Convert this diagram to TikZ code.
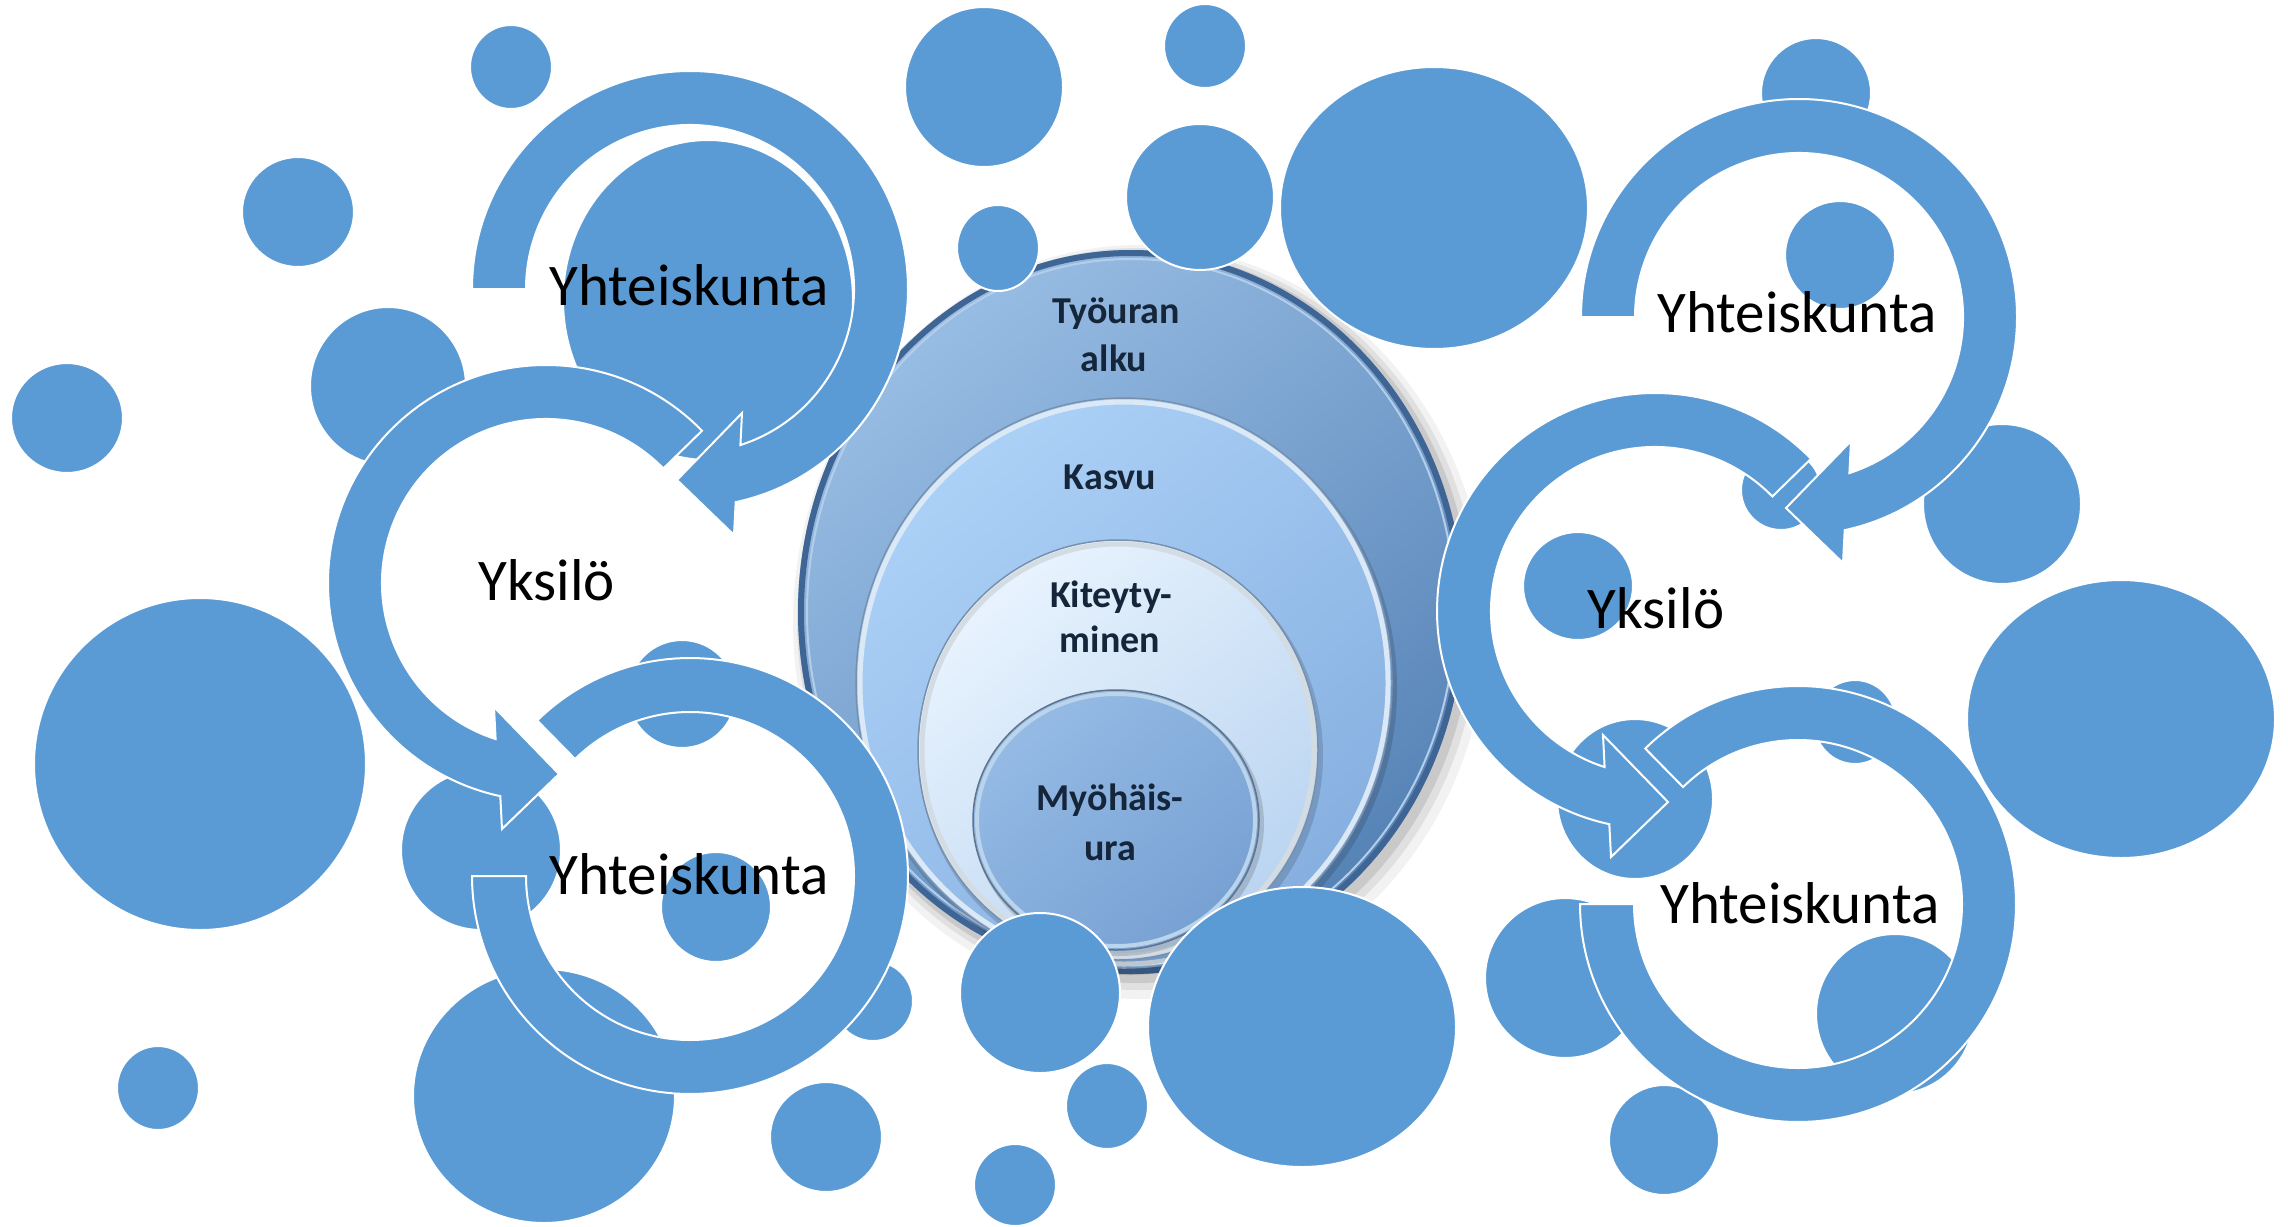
\documentclass[tikz,border=0pt]{standalone}
\usepackage{fontspec}
\setmainfont{Carlito}
\usetikzlibrary{calc}
\definecolor{bub}{HTML}{5B9BD5}
\definecolor{outerA}{HTML}{98BDE4}
\definecolor{outerB}{HTML}{5683B6}
\definecolor{rimdark}{HTML}{3F6594}
\definecolor{rimlight}{HTML}{B4CDE9}
\definecolor{ctwoA}{HTML}{ACD1F7}
\definecolor{ctwoB}{HTML}{86AFE0}
\definecolor{cthreeA}{HTML}{E8F3FE}
\definecolor{cthreeB}{HTML}{BAD4F0}
\definecolor{cfourA}{HTML}{95BBE5}
\definecolor{cfourB}{HTML}{78A1D3}
\definecolor{silver}{HTML}{E3ECF5}
\definecolor{edgegray}{HTML}{7890AC}
\definecolor{ctxt}{HTML}{15253A}
\newcommand{\ringA}[1]{%
  \path[ringst] ($(#1)+(180:218)$) arc[start angle=180, end angle=437.9, radius=218]
    -- ($(#1)+(44,246)$) -- ($(#1)+(-13,191)$) -- ($(#1)+(52,124)$)
    -- ($(#1)+(72.1:164)$) arc[start angle=432.1, end angle=180, radius=164] -- cycle;}
\newcommand{\ringB}[1]{%
  \path[ringst] ($(#1)+(315.7:218)$) arc[start angle=315.7, end angle=102.1, radius=218]
    -- ($(#1)+(-44,246)$) -- ($(#1)+(13,191)$) -- ($(#1)+(-52,124)$)
    -- ($(#1)+(107.9:164)$) arc[start angle=107.9, end angle=315.7, radius=164] -- cycle;}
\newcommand{\ringC}[1]{%
  \path[ringst] ($(#1)+(225.5:218)$) arc[start angle=225.5, end angle=540, radius=218]
    -- ($(#1)+(540:164)$) arc[start angle=540, end angle=225.5, radius=164] -- cycle;}
\begin{document}
\begin{tikzpicture}[x=1pt,y=-1pt,
  bubble/.style={fill=bub,draw=white,line width=2pt},
  ringst/.style={fill=bub,draw=white,line width=2pt,line join=miter,miter limit=10},
  rtext/.style={font=\fontsize{59}{70}\selectfont,text=black,inner sep=0pt,anchor=base},
  ctext/.style={font=\fontsize{38}{46}\selectfont\bfseries,text=ctxt,inner sep=0pt,anchor=base}]
\useasboundingbox (0,0) rectangle (2288,1226);
\fill[white] (0,0) rectangle (2288,1226);

% ---------- central nested circles picture ----------
\fill[black,opacity=0.05] (1140,622) ellipse [x radius=347, y radius=377];
\fill[black,opacity=0.07] (1138,619) ellipse [x radius=341, y radius=371];
\fill[black,opacity=0.10] (1136,617) ellipse [x radius=336, y radius=366];
\shade[top color=outerA, bottom color=outerB, shading angle=40] (1131,612) ellipse [x radius=333, y radius=362];
\draw[rimdark, line width=6pt] (1131,612) ellipse [x radius=330, y radius=359];
\draw[rimlight, line width=2pt] (1131,612) ellipse [x radius=324, y radius=353];

\fill[black,opacity=0.14] (1127,688) ellipse [x radius=270, y radius=287];
\shade[top color=ctwoA, bottom color=ctwoB, shading angle=40] (1124,683) ellipse [x radius=268, y radius=285];
\draw[edgegray, line width=1.5pt] (1124,683) ellipse [x radius=268, y radius=285];
\draw[silver!85!ctwoA, line width=5pt] (1124,683) ellipse [x radius=264, y radius=281];

\fill[black,opacity=0.14] (1121,755) ellipse [x radius=202, y radius=212];
\shade[top color=cthreeA, bottom color=cthreeB, shading angle=40] (1118,750) ellipse [x radius=200, y radius=210];
\draw[edgegray, line width=1.5pt] (1118,750) ellipse [x radius=200, y radius=210];
\draw[silver!85!gray, line width=5pt] (1118,750) ellipse [x radius=196, y radius=206];

\fill[black,opacity=0.14] (1119,824) ellipse [x radius=145, y radius=132];
\shade[top color=cfourA, bottom color=cfourB, shading angle=40] (1116,820) ellipse [x radius=143, y radius=130];
\draw[edgegray!80!black, line width=1.5pt] (1116,820) ellipse [x radius=143, y radius=130];
\draw[silver!70!bub, line width=4pt] (1116,820) ellipse [x radius=139, y radius=126];

\node[ctext] (t1a) at (1116,323) {Työuran};
\node[ctext] (t1b) at (1114,371) {alku};
\node[ctext] (t2)  at (1110,489) {Kasvu};
\node[ctext] (t3a) at (1111,607) {Kiteyty-};
\node[ctext] (t3b) at (1110,652) {minen};
\node[ctext] (t4a) at (1110,810) {Myöhäis-};
\node[ctext] (t4b) at (1110,860) {ura};

% ---------- bubbles ----------
\foreach \x/\y/\a/\b in {
  511/67/41/42, 298/212/56/55, 388/386/78/79, 67/418/56/55, 708/300/145/160,
  984/87/79/80, 998/248/41/43, 1200/197/74/73, 1205/46/41/42, 1434/208/154/141,
  1816/93/55/55, 1840/255/55/54, 2002/504/79/80, 1781/490/40/40, 1578/586/55/54,
  2121/719/154/139, 200/764/166/166, 682/694/54/54, 481/850/80/80, 716/907/55/55,
  873/1001/40/40, 544/1096/131/127, 158/1088/41/42, 826/1137/56/55, 1040/993/80/80,
  1107/1106/41/43, 1015/1185/41/41, 1302/1027/154/140, 1565/978/80/80, 1855/722/41/42,
  1635/799/78/80, 1895/1014/79/80, 1664/1140/55/55}
  \path[bubble] (\x,\y) ellipse [x radius=\a, y radius=\b];

% ---------- circular arrows ----------
\coordinate (L1) at (690,289);
\coordinate (L2) at (546,583);
\coordinate (L3) at (690,876);
\coordinate (R1) at (1799,317);
\coordinate (R2) at (1655,611);
\coordinate (R3) at (1798,904);
\ringA{L1}
\ringB{L2}
\ringC{L3}
\ringA{R1}
\ringB{R2}
\ringC{R3}

\node[rtext] (ly1) at (689,305) {Yhteiskunta};
\node[rtext] (ly2) at (547,600) {Yksilö};
\node[rtext] (ly3) at (689,894) {Yhteiskunta};
\node[rtext] (ry1) at (1797,332) {Yhteiskunta};
\node[rtext] (ry2) at (1656,628) {Yksilö};
\node[rtext] (ry3) at (1800,923) {Yhteiskunta};
\end{tikzpicture}
\end{document}
